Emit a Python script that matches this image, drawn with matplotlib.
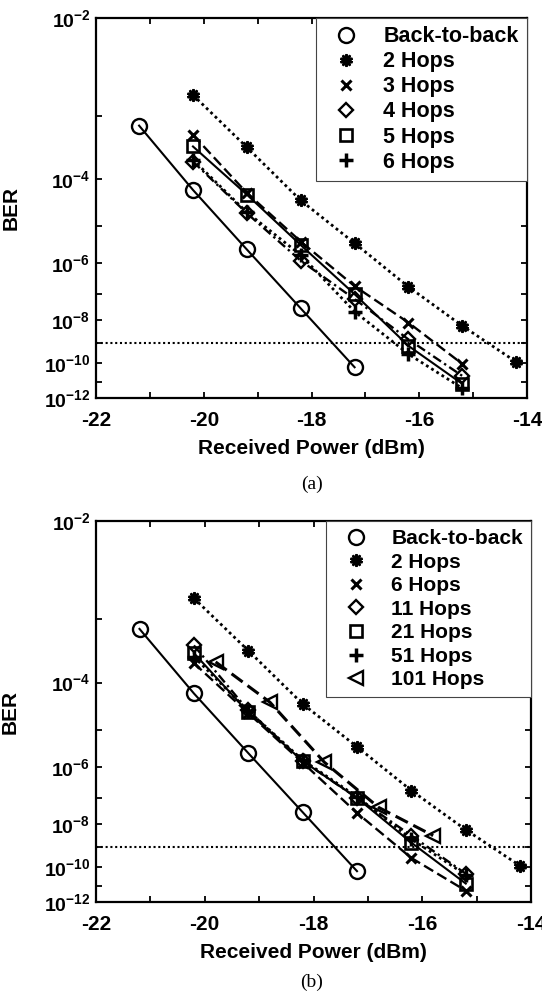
import math
import numpy as np
import matplotlib
matplotlib.use("Agg")
import matplotlib.pyplot as plt
from matplotlib.lines import Line2D

plt.rcParams['font.family'] = ['Liberation Sans', 'DejaVu Sans']
plt.rcParams['font.weight'] = 'bold'
plt.rcParams['axes.unicode_minus'] = False
plt.rcParams['mathtext.fontset'] = 'custom'
plt.rcParams['mathtext.rm'] = 'Liberation Sans:bold'
plt.rcParams['mathtext.bf'] = 'Liberation Sans:bold'
plt.rcParams['mathtext.it'] = 'Liberation Sans:bold'

# ---------------- data ----------------
x_b2b = [-21.2, -20.2, -19.2, -18.2, -17.2]
ber_b2b = [7.3e-4, 6.2e-5, 2.5e-6, 3.0e-8, 6.3e-11]

x_2hops = [-20.2, -19.2, -18.2, -17.2, -16.2, -15.2, -14.2]
ber_2hops = [1.8e-3, 3.5e-4, 3.8e-5, 3.7e-6, 1.8e-7, 5.9e-9, 1.2e-10]

x_hops = [-20.2, -19.2, -18.2, -17.2, -16.2, -15.2]
# panel (a)
ber_a_3hops = [5.4e-4, 5.4e-5, 4.1e-6, 1.9e-7, 8.1e-9, 9.4e-11]
ber_a_4hops = [2.05e-4, 2.0e-5, 1.2e-6, 6.7e-8, 1.5e-9, 2.1e-11]
ber_a_5hops = [3.6e-4, 5.0e-5, 3.3e-6, 1.0e-7, 7.5e-10, 7.3e-12]
ber_a_6hops = [2.2e-4, 2.1e-5, 1.75e-6, 2.25e-8, 3.0e-10, 4.0e-12]

# panel (b)
ber_b_6hops = [2.2e-4, 2.4e-5, 1.35e-6, 2.8e-8, 3.0e-10, 5.0e-12]
ber_b_11hops = [4.2e-4, 2.75e-5, 1.5e-6, 1.0e-7, 3.3e-9, 4.6e-11]
ber_b_21hops = [3.2e-4, 2.5e-5, 1.5e-6, 1.0e-7, 1.6e-9, 1.3e-11]
ber_b_51hops = [2.8e-4, 2.7e-5, 1.6e-6, 1.1e-7, 2.3e-9, 4.0e-11]
x_101hops = [-19.8, -18.8, -17.8, -16.8, -15.8]
ber_b_101hops = [2.3e-4, 4.1e-5, 1.38e-6, 4.5e-8, 3.3e-9]

ber_threshold = 1e-9

yticks_major = [1e-2, 1e-4, 1e-6, 1e-8, 1e-10, 1e-12]
ytick_labels = ['$10^{-2}$', '$10^{-4}$', '$10^{-6}$', '$10^{-8}$', '$10^{-10}$', '$10^{-12}$']
yticks_minor = [1e-3, 1e-5, 1e-7, 1e-9, 1e-11]
xticks_major = [-22, -20, -18, -16, -14]
xtick_labels = ['-22', '-20', '-18', '-16', '-14']
xticks_minor = [-21, -19, -17, -15]

# ------------- BER (Q-factor) scale -------------
_erfc = np.vectorize(math.erfc, otypes=[float])


def qinv(p):
    p = np.clip(np.asarray(p, dtype=float), 1e-300, 0.499999)
    lo = np.full(p.shape, 0.0)
    hi = np.full(p.shape, 40.0)
    for _ in range(70):
        mid = 0.5 * (lo + hi)
        val = 0.5 * _erfc(mid / math.sqrt(2.0))
        big = val > p
        lo = np.where(big, mid, lo)
        hi = np.where(big, hi, mid)
    return 0.5 * (lo + hi)


def fwd(ber):
    ber = np.asarray(ber, dtype=float)
    q = qinv(ber)
    q = np.maximum(q, 1e-6)
    return -np.log10(q)


def inv(y):
    y = np.asarray(y, dtype=float)
    q = 10.0 ** (-y)
    return 0.5 * _erfc(q / math.sqrt(2.0))


fig = plt.figure(figsize=(5.42, 9.96), dpi=100)

ax_a = fig.add_axes([96 / 542, 1 - 398 / 996, 431 / 542, 380 / 996])
ax_b = fig.add_axes([96 / 542, 1 - 902 / 996, 435 / 542, 381 / 996])

LW = 1.5
common = dict(color='black', lw=LW)
s_circle = dict(marker='o', ms=10.8, mfc='none', mec='black', mew=1.7)
s_star = dict(marker=(10, 1, 0), ms=9, mfc='black', mec='black', mew=1.5)
s_x = dict(marker='x', ms=7, mec='black', mew=2.2)
s_diam = dict(marker='D', ms=7.5, mfc='none', mec='black', mew=1.7)
s_sq = dict(marker='s', ms=8, mfc='none', mec='black', mew=1.9)
s_plus = dict(marker='+', ms=9.5, mec='black', mew=2.5)
s_tri = dict(marker='<', ms=10, mfc='none', mec='black', mew=1.7)

DOT = (0, (1, 1.2))
DASH = (0, (4.5, 2))
DASHDOT = (0, (4, 1.6, 1, 1.6))


def style_axes(ax):
    ax.set_yscale('function', functions=(fwd, inv))
    ax.set_xlim(-22, -14)
    ax.set_ylim(1e-12, 1e-2)
    ax.set_xticks(xticks_major)
    ax.set_xticklabels(xtick_labels)
    ax.set_xticks(xticks_minor, minor=True)
    ax.set_yticks(yticks_major)
    ax.set_yticklabels(ytick_labels)
    ax.set_yticks(yticks_minor, minor=True)
    ax.yaxis.set_minor_formatter(matplotlib.ticker.NullFormatter())
    ax.tick_params(which='both', direction='in', length=4, width=1.3,
                   top=True, right=True)
    ax.tick_params(axis='x', labelsize=15, pad=9)
    ax.tick_params(axis='y', labelsize=14, pad=4)
    for lab in ax.get_xticklabels() + ax.get_yticklabels():
        lab.set_fontweight('bold')
    for sp in ax.spines.values():
        sp.set_linewidth(1.6)
    ax.set_xlabel('Received Power (dBm)', fontsize=15, fontweight='bold', labelpad=7)
    ax.set_ylabel('BER', fontsize=15, fontweight='bold')
    ax.yaxis.set_label_coords(-0.175, 0.5)
    ax.axhline(ber_threshold, color='black', lw=1.5, ls=(0, (1, 1.3)), zorder=1)


def make_legend(ax, entries, size, spacing):
    handles = [Line2D([], [], ls='none', color='black', **st) for st, _ in entries]
    labels = [lab for _, lab in entries]
    leg = ax.legend(handles, labels, loc='upper right', bbox_to_anchor=(1.0, 1.0),
                    frameon=True, fancybox=False, framealpha=1,
                    edgecolor='#444444', borderaxespad=0, handlelength=2.05,
                    handletextpad=0.7, labelspacing=spacing, borderpad=0.38,
                    prop={'weight': 'bold', 'size': size})
    leg.get_frame().set_linewidth(0.8)
    leg.set_zorder(5)


# ---------- panel (a) ----------
style_axes(ax_a)
ax_a.plot(x_b2b, ber_b2b, ls='-', **common, **s_circle)
ax_a.plot(x_2hops, ber_2hops, ls=DOT, color='black', lw=2.0, **s_star)
ax_a.plot(x_hops, ber_a_3hops, ls=DASH, color='black', lw=1.7, **s_x)
ax_a.plot(x_hops, ber_a_4hops, ls=DASHDOT, color='black', lw=1.7, **s_diam)
ax_a.plot(x_hops, ber_a_5hops, ls='-', **common, **s_sq)
ax_a.plot(x_hops, ber_a_6hops, ls=DOT, color='black', lw=2.0, **s_plus)
make_legend(ax_a, [(s_circle, 'Back-to-back'), (s_star, '2 Hops'), (s_x, '3 Hops'),
                   (s_diam, '4 Hops'), (s_sq, '5 Hops'), (s_plus, '6 Hops')], 15.5, 0.19)

# ---------- panel (b) ----------
style_axes(ax_b)
ax_b.plot(x_b2b, ber_b2b, ls='-', **common, **s_circle)
ax_b.plot(x_2hops, ber_2hops, ls=DOT, color='black', lw=2.0, **s_star)
ax_b.plot(x_hops, ber_b_6hops, ls=DASH, color='black', lw=1.7, **s_x)
ax_b.plot(x_hops, ber_b_11hops, ls=DASHDOT, color='black', lw=1.7, **s_diam)
ax_b.plot(x_hops, ber_b_21hops, ls='-', **common, **s_sq)
ax_b.plot(x_hops, ber_b_51hops, ls=DOT, color='black', lw=2.0, **s_plus)
ax_b.plot(x_101hops, ber_b_101hops, ls=DASH, color='black', lw=2.2, **s_tri)
make_legend(ax_b, [(s_circle, 'Back-to-back'), (s_star, '2 Hops'), (s_x, '6 Hops'),
                   (s_diam, '11 Hops'), (s_sq, '21 Hops'), (s_plus, '51 Hops'),
                   (s_tri, '101 Hops')], 15, 0.22)

fig.text(312 / 542, 1 - 484 / 996, '(a)', ha='center', va='center',
         fontsize=14, fontweight='normal', family='Liberation Serif')
fig.text(312 / 542, 1 - 982 / 996, '(b)', ha='center', va='center',
         fontsize=14, fontweight='normal', family='Liberation Serif')

fig.savefig('out.png', dpi=100)
